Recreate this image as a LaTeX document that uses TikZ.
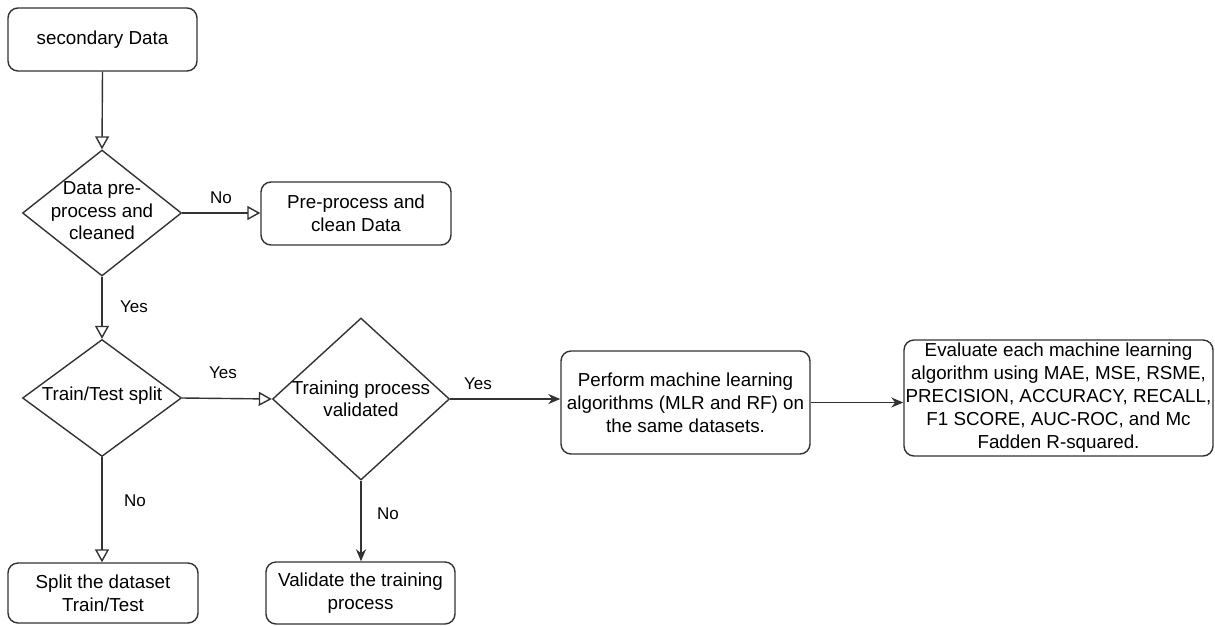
\documentclass[tikz,border=0pt]{standalone}
\usepackage{fontspec}
\setmainfont{Liberation Sans}
\usetikzlibrary{shapes.geometric,arrows.meta}
\definecolor{ln}{HTML}{333333}
\tikzset{
  box/.style={draw=ln, line width=1.4pt, rounded corners=10pt, align=center, inner sep=0pt,
    font=\fontsize{18.8}{23}\selectfont},
  dia/.style={draw=ln, line width=1.4pt, shape=diamond, inner sep=0pt},
  dtext/.style={align=center, inner sep=0pt, font=\fontsize{18.8}{22.5}\selectfont},
  lab/.style={inner sep=0pt, font=\fontsize{17}{20}\selectfont},
  oarrow/.style={draw=ln, line width=1.4pt, -{Triangle[open, length=13pt, width=14pt]}},
  farrow/.style={draw=ln, line width=1.7pt, -{Stealth[length=12pt, width=10pt]}}
}
\begin{document}
\begin{tikzpicture}[x=1pt, y=-1pt]
\useasboundingbox[fill=white] (0,0) rectangle (1215,625);
% boxes
\node[box, minimum width=189pt, minimum height=63pt] (sd) at (102.5,39.5) {secondary Data};
\node[box, minimum width=190pt, minimum height=63pt] (pp) at (356,213.5) {Pre-process and\\clean Data};
\node[box, minimum width=249pt, minimum height=103pt] (perf) at (685.5,402.5) {Perform machine learning\\algorithms (MLR and RF) on\\the same datasets.};
\node[box, minimum width=309pt, minimum height=116pt] (eval) at (1058.5,398) {Evaluate each machine learning\\algorithm using MAE, MSE, RSME,\\PRECISION, ACCURACY, RECALL,\\F1 SCORE, AUC-ROC, and Mc\\Fadden R-squared.};
\node[box, minimum width=190pt, minimum height=60pt] (split) at (103,593) {Split the dataset\\Train/Test};
\node[box, minimum width=189pt, minimum height=62pt] (val) at (360.5,593) {Validate the training\\process};
% diamonds
\node[dia, minimum width=159pt, minimum height=126pt] (d1) at (102,213) {};
\node[dtext] (d1t) at (102,211) {Data pre-\\process and\\cleaned};
\node[dia, minimum width=159pt, minimum height=117pt] (d2) at (102,398) {};
\node[dtext] (d2t) at (102,396) {Train/Test split};
\node[dia, minimum width=177pt, minimum height=162pt] (d3) at (361,399) {};
\node[dtext] (d3t) at (361,399) {Training process\\validated};
% connectors
\draw[oarrow] (sd.south) -- (d1.north);
\draw[oarrow] (d1.east) -- (pp.west |- d1.east);
\draw[oarrow] (d1.south) -- (d2.north);
\draw[oarrow] (d2.east) -- (d3.west);
\draw[oarrow] (d2.south) -- (split.north -| d2.south);
\draw[farrow] (d3.east) -- (perf.west |- d3.east);
\draw[farrow] (perf.east) -- (eval.west |- perf.east);
\draw[farrow] (d3.south) -- (val.north -| d3.south);
% labels
\node[lab] (l1) at (221,198) {No};
\node[lab] (l2) at (134,307) {Yes};
\node[lab] (l3) at (223,373) {Yes};
\node[lab] (l4) at (135,501) {No};
\node[lab] (l5) at (478,384) {Yes};
\node[lab] (l6) at (388,514) {No};
\end{tikzpicture}
\end{document}
